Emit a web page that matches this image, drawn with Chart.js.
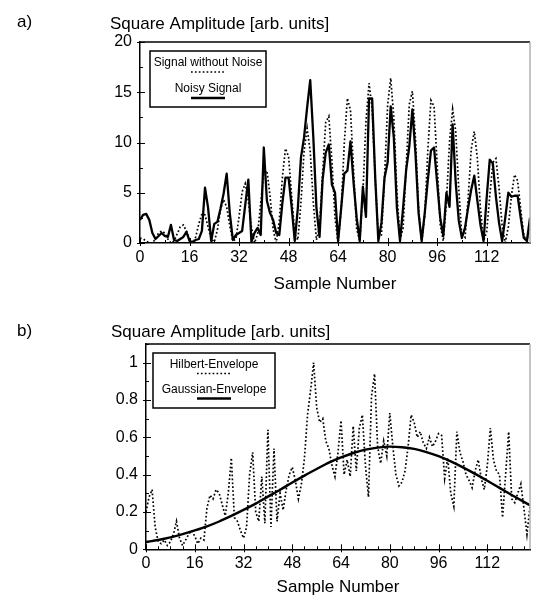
<!DOCTYPE html>
<html>
<head>
<meta charset="utf-8">
<script src="https://cdn.jsdelivr.net/npm/chart.js@4"></script>
<style>
  body { margin: 0; background: #fff; }
  .panel { position: absolute; left: 0; width: 533px; }
  .tag { position: absolute; left: 17px; font: 17px "Liberation Sans", Arial, sans-serif; color: #000; }
</style>
</head>
<body>
<div class="panel" style="top:0;height:300px"><canvas id="chartA"></canvas></div>
<div class="panel" style="top:300px;height:298px"><canvas id="chartB"></canvas></div>
<div class="tag" style="top:12px">a)</div>
<div class="tag" style="top:321px">b)</div>
<script>
// tick labels
const sampleTicks = [0, 16, 32, 48, 64, 80, 96, 112];
const ampTicksA = [0, 5, 10, 15, 20];
const ampTicksB = [0, 0.2, 0.4, 0.6, 0.8, 1];

// a) square amplitude per sample (sample number = index)
const signalClean = [
  0.5, 0.4, 0.2, 0, 0, 0.4, 1.0, 1.2, 1.0, 0.4,
  0, 0.2, 0.9, 1.6, 1.8, 1.2, 0.4, 0, 0.6, 1.9,
  2.9, 2.8, 1.6, 0.4, 0.1, 1.3, 3.3, 4.3, 3.6, 1.7,
  0.2, 0.4, 2.6, 5.1, 5.9, 4.2, 1.6, 0, 0.9, 4.0,
  6.9, 7.2, 4.7, 1.4, 0, 2.2, 6.5, 9.4, 8.6, 4.7,
  0.9, 0.3, 4.0, 9.1, 11.4, 9.1, 4.0, 0.3, 1.6, 7.0,
  12.0, 12.6, 8.2, 2.5, 0, 3.3, 9.9, 14.4, 13.2, 7.2,
  1.4, 0.2, 4.9, 12.1, 15.9, 13.3, 6.3, 0.7, 0.8, 6.5,
  13.7, 16.4, 12.5, 5.1, 0.3, 1.5, 7.6, 13.8, 15.1, 10.4,
  3.5, 0, 2.8, 9.3, 14.2, 13.6, 7.9, 1.8, 0.2, 4.1,
  10.1, 13.3, 11.1, 5.3, 0.6, 0.5, 4.4, 9.3, 11.1, 8.4,
  3.4, 0.2, 1.1, 4.7, 8.0, 8.4, 5.5, 1.7, 0, 1.6,
  4.7, 6.8, 6.2, 3.4, 0.7, 0.2, 1.8
];
const signalNoisy = [
  2.3, 2.8, 2.9, 2.3, 1.0, 0.4, 0.7, 1.0, 0.7, 0.6,
  1.8, 0.3, 0.2, 0.4, 0.6, 1.1, 0.2, 0.1, 0.3, 0.4,
  1.2, 5.5, 3.5, 0.2, 1.9, 2.1, 3.4, 4.9, 6.9, 3.0,
  0.3, 0.8, 1.0, 1.2, 3.8, 6.3, 0.1, 1.0, 1.5, 0.8,
  9.5, 4.2, 3.0, 2.3, 1.0, 0.8, 4.0, 6.5, 6.5, 3.6,
  0.2, 3.5, 8.5, 10.5, 13.5, 16.2, 10.5, 3.5, 0.6, 6.3,
  9.0, 9.8, 5.8, 5.0, 0.2, 3.5, 6.9, 7.2, 10.1, 6.0,
  2.5, 0.2, 5.6, 2.6, 14.4, 14.4, 6.5, 0.2, 2.0, 6.5,
  8.0, 13.6, 10.5, 3.5, 0.2, 3.5, 7.3, 9.6, 13.3, 8.9,
  3.0, 0.2, 3.0, 6.3, 9.2, 9.5, 6.0, 2.5, 0.7, 5.0,
  3.6, 11.8, 6.0, 2.2, 0.5, 1.5, 3.5, 5.3, 6.7, 4.2,
  1.8, 0.2, 4.5, 8.3, 7.9, 4.6, 2.0, 0.2, 2.5, 5.0,
  4.6, 4.7, 4.7, 2.5, 0.5, 0.2, 2.5
];

// b) envelopes
const hilbertEnv = [
  0.20, 0.28, 0.32, 0.12, 0.04, 0.03, 0.05, 0.02, 0.04, 0.08,
  0.15, 0.06, 0.02, 0.05, 0.08, 0.10, 0.07, 0.03, 0.06, 0.05,
  0.22, 0.29, 0.27, 0.32, 0.30, 0.24, 0.18, 0.30, 0.49, 0.17,
  0.15, 0.10, 0.06, 0.12, 0.40, 0.52, 0.20, 0.15, 0.39, 0.14,
  0.64, 0.12, 0.54, 0.15, 0.30, 0.21, 0.32, 0.40, 0.44, 0.37,
  0.27, 0.35, 0.49, 0.72, 0.85, 1.00, 0.76, 0.68, 0.70, 0.58,
  0.54, 0.45, 0.39, 0.52, 0.69, 0.40, 0.48, 0.39, 0.66, 0.42,
  0.65, 0.72, 0.45, 0.28, 0.82, 0.94, 0.55, 0.46, 0.58, 0.50,
  0.73, 0.55, 0.40, 0.34, 0.36, 0.42, 0.55, 0.72, 0.68, 0.60,
  0.63, 0.57, 0.54, 0.60, 0.55, 0.58, 0.62, 0.61, 0.38, 0.49,
  0.30, 0.23, 0.63, 0.52, 0.47, 0.40, 0.37, 0.33, 0.42, 0.48,
  0.38, 0.32, 0.45, 0.65, 0.48, 0.42, 0.40, 0.17, 0.40, 0.63,
  0.27, 0.25, 0.30, 0.35, 0.22, 0.08, 0.23
];
const gaussSamples = [0, 4, 8, 12, 16, 20, 24, 28, 32, 36, 40, 44, 48, 52, 56, 60,
  64, 68, 72, 76, 80, 84, 88, 92, 96, 100, 104, 108, 112, 116, 120, 124, 126];
const gaussEnv = [0.039, 0.050, 0.064, 0.081, 0.101, 0.123, 0.149, 0.179, 0.211, 0.245,
  0.282, 0.319, 0.358, 0.395, 0.430, 0.464, 0.492, 0.516, 0.534, 0.545, 0.550,
  0.547, 0.538, 0.521, 0.499, 0.471, 0.439, 0.404, 0.367, 0.329, 0.291, 0.254, 0.236];

const FONT = '"Liberation Sans", Arial, Helvetica, sans-serif';
Chart.defaults.font.family = FONT;
Chart.defaults.color = '#000';

// y-axis heading written above the plot, left of the axis
const heading = {
  id: 'heading',
  afterDraw(chart, args, o) {
    const { ctx, chartArea } = chart;
    ctx.save();
    ctx.font = '17px ' + FONT;
    ctx.fillStyle = '#000';
    ctx.textAlign = 'left';
    ctx.textBaseline = 'middle';
    ctx.fillText(o.text, chartArea.left - o.dx, chartArea.top - o.dy);
    ctx.restore();
  }
};

// legend box drawn inside the plot, text over a short line sample
const boxLegend = {
  id: 'boxLegend',
  afterDraw(chart, args, o) {
    const { ctx, chartArea } = chart;
    const x = chartArea.left + o.left, y = chartArea.top + o.top;
    const cx = x + o.width / 2;
    ctx.save();
    ctx.strokeStyle = '#000';
    ctx.lineWidth = 1.5;
    ctx.strokeRect(x, y, o.width, o.height);
    ctx.font = '12px ' + FONT;
    ctx.fillStyle = '#000';
    ctx.textAlign = 'center';
    ctx.textBaseline = 'middle';
    chart.data.datasets.forEach((ds, i) => {
      const ty = y + o.rowTop + i * o.rowGap;
      ctx.fillText(ds.label, cx, ty);
      ctx.beginPath();
      ctx.setLineDash(ds.borderDash || []);
      ctx.lineWidth = ds.borderWidth;
      ctx.moveTo(cx - 17, ty + 9);
      ctx.lineTo(cx + 17, ty + 9);
      ctx.stroke();
    });
    ctx.restore();
  }
};

// top/right frame and the small inward tick marks
const frame = {
  id: 'frame',
  afterDatasetsDraw(chart, args, o) {
    const { ctx, chartArea: a, scales: { x, y } } = chart;
    ctx.save();
    ctx.lineWidth = 1.5;
    ctx.strokeStyle = '#000';
    ctx.beginPath();
    ctx.moveTo(a.left, a.top);
    ctx.lineTo(a.right, a.top);
    ctx.stroke();
    ctx.strokeStyle = '#b0b0b0';
    ctx.beginPath();
    ctx.moveTo(a.right, a.top);
    ctx.lineTo(a.right, a.bottom);
    ctx.stroke();

    ctx.strokeStyle = '#000';
    ctx.lineWidth = 1;
    ctx.beginPath();
    for (let k = 0; k * o.xMinor <= x.max + 1e-9; k++) {
      const v = k * o.xMinor;
      const major = Math.abs(v / o.xMajor - Math.round(v / o.xMajor)) < 1e-6;
      const px = Math.round(x.getPixelForValue(v)) + 0.5;
      ctx.moveTo(px, a.bottom + (major ? 3 : 0));
      ctx.lineTo(px, a.bottom - (major ? 5 : 3));
    }
    for (let k = 0; k * o.yMinor <= y.max + 1e-9; k++) {
      const v = k * o.yMinor;
      const major = Math.abs(v / o.yMajor - Math.round(v / o.yMajor)) < 1e-6;
      const py = Math.round(y.getPixelForValue(v)) + 0.5;
      ctx.moveTo(a.left - (major ? 3 : 0), py);
      ctx.lineTo(a.left + (major ? 5 : 3), py);
    }
    ctx.stroke();
    ctx.restore();
  }
};

function dotted(label, values) {
  return {
    label,
    data: values.map((v, i) => ({ x: i, y: v })),
    borderColor: '#000',
    borderWidth: 1.7,
    borderDash: [1.7, 2.2],
    pointRadius: 0,
    tension: 0
  };
}

function amplitudeChart(canvas, datasets, o) {
  return new Chart(canvas, {
    type: 'line',
    data: { datasets },
    options: {
      animation: false,
      responsive: true,
      maintainAspectRatio: false,
      layout: { padding: o.padding },
      plugins: {
        legend: { display: false },
        tooltip: { enabled: false },
        heading: { text: 'Square Amplitude [arb. units]', dx: o.headDx, dy: o.headDy },
        boxLegend: o.legend,
        frame: o.frame
      },
      scales: {
        x: {
          type: 'linear',
          min: 0,
          max: 126,
          afterBuildTicks: s => { s.ticks = sampleTicks.map(v => ({ value: v })); },
          afterFit: s => { s.height = o.xHeight; },
          grid: { display: false, tickLength: 0 },
          border: { color: '#000', width: 1.5 },
          ticks: { padding: 5, color: '#000', font: { size: 16 }, maxRotation: 0, callback: v => String(v) },
          title: {
            display: true,
            text: 'Sample Number',
            color: '#000',
            font: { size: 17 },
            padding: { top: 0, bottom: o.xTitlePad }
          }
        },
        y: {
          min: 0,
          max: o.yMax,
          afterBuildTicks: s => { s.ticks = o.yTicks.map(v => ({ value: v })); },
          afterFit: s => { s.width = o.yWidth; },
          grid: { display: false, tickLength: 0 },
          border: { color: '#000', width: 1.5 },
          ticks: { padding: 8, color: '#000', font: { size: 16 }, callback: v => String(v) }
        }
      }
    },
    plugins: [heading, boxLegend, frame]
  });
}

amplitudeChart(document.getElementById('chartA'), [
  dotted('Signal without Noise', signalClean),
  {
    label: 'Noisy Signal',
    data: signalNoisy.map((v, i) => ({ x: i, y: v })),
    borderColor: '#000',
    borderWidth: 2.3,
    borderJoinStyle: 'round',
    pointRadius: 0,
    tension: 0
  }
], {
  padding: { left: 0, right: 3, top: 42, bottom: 5 },
  headDx: 30, headDy: 18,
  xHeight: 52, xTitlePad: 0, yWidth: 140,
  yMax: 20, yTicks: ampTicksA,
  legend: { left: 10, top: 9, width: 116, height: 56, rowTop: 12, rowGap: 26 },
  frame: { xMinor: 8, xMajor: 16, yMinor: 2.5, yMajor: 5 }
});

amplitudeChart(document.getElementById('chartB'), [
  dotted('Hilbert-Envelope', hilbertEnv),
  {
    label: 'Gaussian-Envelope',
    data: gaussSamples.map((s, i) => ({ x: s, y: gaussEnv[i] })),
    borderColor: '#000',
    borderWidth: 2.4,
    pointRadius: 0,
    cubicInterpolationMode: 'monotone'
  }
], {
  padding: { left: 0, right: 3, top: 44, bottom: 0 },
  headDx: 35, headDy: 12,
  xHeight: 48.7, xTitlePad: 0, yWidth: 146,
  yMax: 1.1, yTicks: ampTicksB,
  legend: { left: 7, top: 9, width: 122, height: 55, rowTop: 11.5, rowGap: 25 },
  frame: { xMinor: 4, xMajor: 16, yMinor: 0.1, yMajor: 0.2 }
});
</script>
</body>
</html>
